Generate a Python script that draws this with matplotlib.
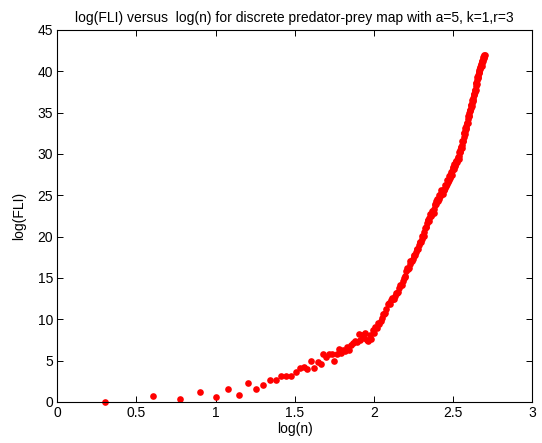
from matplotlib import pyplot as plt
import numpy as np

plt.rcParams['font.family'] = ['Liberation Sans', 'DejaVu Sans']

# iteration number n (first part, every even n)
n_low = [2, 4, 6, 8, 10, 12, 14, 16, 18, 20,
         22, 24, 26, 28, 30, 32, 34, 36, 38, 40,
         42, 44, 46, 48, 50, 52, 54, 56, 58, 60,
         62, 64, 66, 68, 70, 72, 74, 76, 78, 80,
         82, 84, 86, 88, 90, 92, 94, 96, 98, 100,
         102, 104, 106, 108, 110]
fli_low = [0.0, 0.7, 0.4, 1.2, 0.55, 1.6, 0.8, 2.25, 1.6, 2.1,
           2.6, 2.6, 3.2, 3.2, 3.1, 3.6, 4.1, 4.2, 4.0, 4.9,
           4.1, 4.8, 4.6, 5.85, 5.4, 5.8, 5.8, 5.0, 5.8, 6.4,
           5.9, 6.3, 6.2, 6.7, 6.3, 6.9, 7.1, 7.4, 7.3, 8.2,
           7.5, 8.1, 7.7, 8.3, 7.5, 7.4, 8.1, 7.6, 8.7, 8.4,
           9.1, 9.0, 9.5, 9.4, 9.8]

# second part (n = 112, 116, ...)
n_high = [112, 116, 120, 124, 128, 132, 136, 140, 144, 148,
          152, 156, 160, 164, 168, 172, 176, 180, 184, 188,
          192, 196, 200, 204, 208, 212, 216, 220, 224, 228,
          232, 236, 240, 244, 248, 252, 256, 260, 264, 268,
          272, 276, 280, 284, 288, 292, 296, 300, 304, 308,
          312, 316, 320, 324, 328, 332, 336, 340, 344, 348,
          352, 356, 360, 364, 368, 372, 376, 380, 384, 388,
          392, 396, 400, 404, 408, 412, 416, 420, 424, 428,
          432, 436, 440, 444, 448, 452, 456, 460, 464, 468,
          472, 476, 480, 484, 488, 492, 496, 500]
fli_high = [10.2, 10.7, 11.3, 12.0, 12.3, 12.5, 12.8, 13.2, 13.8, 14.2,
            14.6, 15.1, 15.8, 16.1, 16.7, 17.1, 17.3, 17.8, 18.1, 18.5,
            19.0, 19.3, 19.7, 20.1, 20.6, 21.2, 21.6, 22.0, 22.3, 22.6,
            22.8, 23.0, 23.3, 23.9, 24.3, 24.5, 24.6, 24.9, 25.3, 25.5,
            25.2, 25.6, 25.9, 26.2, 26.4, 26.7, 26.9, 27.2, 27.4, 27.6,
            28.0, 28.3, 28.5, 28.7, 28.9, 29.1, 29.3, 29.5, 29.8, 30.3,
            30.5, 30.8, 31.1, 31.6, 32.1, 32.5, 32.8, 33.1, 33.4, 33.8,
            34.2, 34.6, 35.0, 35.3, 35.6, 35.9, 36.2, 36.5, 36.8, 37.2,
            37.5, 37.7, 38.2, 38.6, 38.9, 39.3, 39.6, 39.9, 40.2, 40.4,
            40.6, 40.8, 41.0, 41.3, 41.5, 41.7, 41.8, 41.95]

# second part, the n in between (n = 114, 118, ...)
n_mid = [114, 118, 122, 126, 130, 134, 138, 142, 146, 150,
         154, 158, 162, 166, 170, 174, 178, 182, 186, 190,
         194, 198, 202, 206, 210, 214, 218, 222, 226, 230,
         234, 238, 242, 246, 250, 254, 258, 262, 266, 270,
         274, 278, 282, 286, 290, 294, 298, 302, 306, 310,
         314, 318, 322, 326, 330, 334, 338, 342, 346, 350,
         354, 358, 362, 366, 370, 374, 378, 382, 386, 390,
         394, 398, 402, 406, 410, 414, 418, 422, 426, 430,
         434, 438, 442, 446, 450, 454, 458, 462, 466, 470,
         474, 478, 482, 486, 490, 494, 498]
fli_mid = [10.6, 10.8, 11.9, 11.9, 12.6, 12.4, 13.2, 13.3, 14.2, 14.2,
           15.0, 15.3, 16.2, 16.2, 17.1, 17.0, 17.7, 17.8, 18.5, 18.5,
           19.4, 19.3, 20.1, 20.1, 21.1, 21.2, 22.0, 21.9, 22.7, 22.5,
           23.1, 22.9, 23.8, 23.9, 24.6, 24.3, 25.0, 24.9, 25.6, 25.2,
           25.6, 25.6, 26.3, 26.1, 26.8, 26.6, 27.3, 27.1, 27.8, 27.5,
           28.4, 28.2, 28.8, 28.6, 29.2, 29.0, 29.6, 29.4, 30.3, 30.2,
           30.9, 30.7, 31.6, 31.6, 32.5, 32.4, 33.2, 33.0, 33.8, 33.7,
           34.6, 34.6, 35.3, 35.2, 35.9, 35.8, 36.5, 36.4, 37.2, 37.1,
           37.8, 37.7, 38.6, 38.5, 39.3, 39.2, 39.9, 39.8, 40.5, 40.3,
           40.9, 40.7, 41.3, 41.2, 41.7, 41.6, 42.0]

x_ticks = [0, 0.5, 1, 1.5, 2, 2.5, 3]
y_ticks = [0, 5, 10, 15, 20, 25, 30, 35, 40, 45]

n = np.array(n_low + n_high + n_mid)
fli = np.array(fli_low + fli_high + fli_mid)

fig = plt.figure(figsize=(5.42, 4.43), dpi=100)
ax = fig.add_axes([0.1057, 0.0926, 0.8764, 0.8397])

ax.plot(np.log10(n), fli, 'o', color='#ff0000', markersize=4.8,
        markeredgewidth=0, clip_on=False)

ax.set_xlim(0, 3)
ax.set_ylim(0, 45)
ax.set_xticks(x_ticks)
ax.set_xticklabels([f'{t:g}' for t in x_ticks])
ax.set_yticks(y_ticks)
ax.tick_params(direction='in', top=True, right=True, length=4, width=0.7,
               labelsize=10, pad=3)
for s in ax.spines.values():
    s.set_linewidth(0.8)

ax.set_xlabel('log(n)', fontsize=10, labelpad=1)
ax.set_ylabel('log(FLI)', fontsize=10, labelpad=8)
ax.set_title('log(FLI) versus  log(n) for discrete predator-prey map with a=5, k=1,r=3',
             fontsize=10, pad=6)

plt.savefig('out.png', dpi=100)
